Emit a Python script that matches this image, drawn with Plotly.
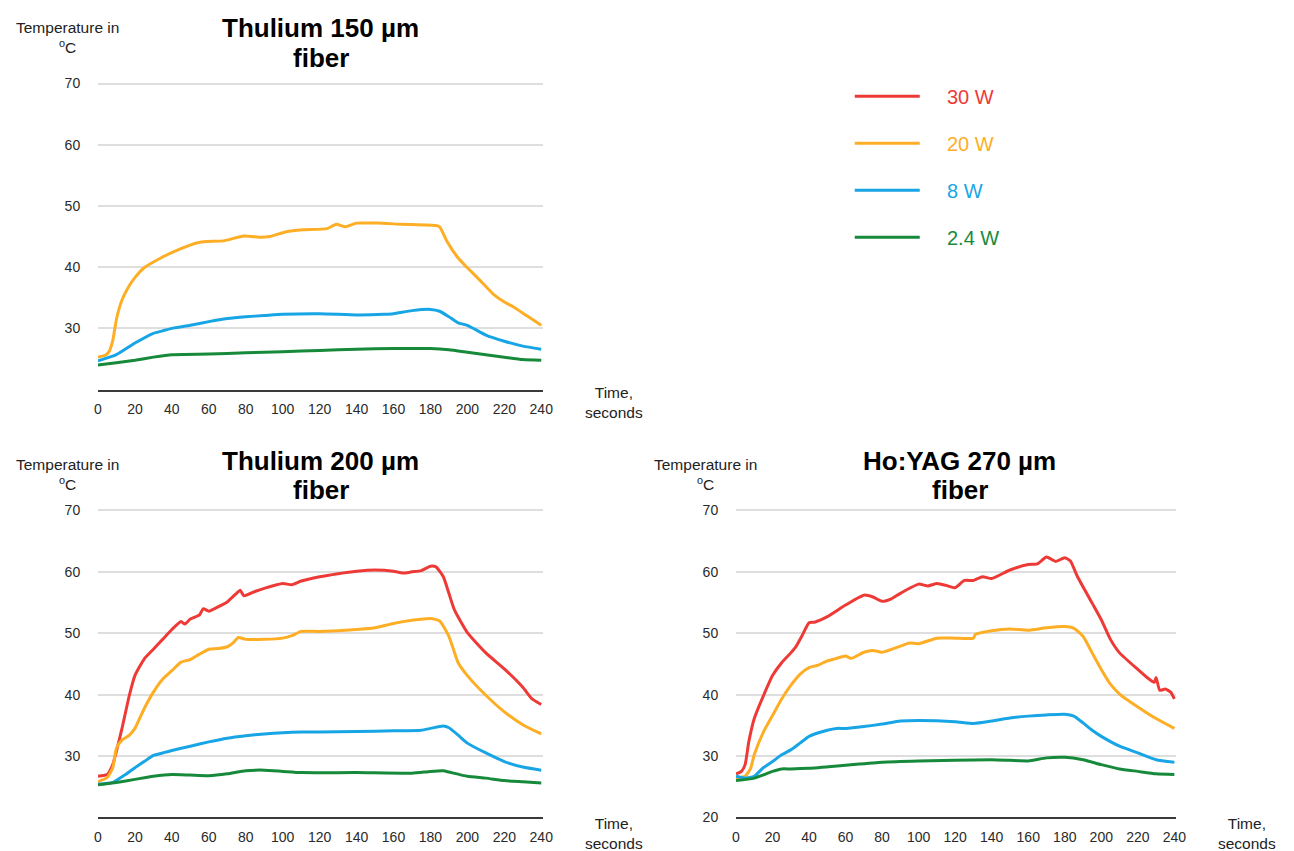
import plotly.graph_objects as go

# ---------------- data ----------------
time_ticks = [0, 20, 40, 60, 80, 100, 120, 140, 160, 180, 200, 220, 240]
series_names = ["30 W", "20 W", "8 W", "2.4 W"]
series_colors = ["#EE3A36", "#FDAE25", "#18A5E5", "#168A3A"]

# Thulium 150 µm fiber
t150_20w_t = [0, 4, 6, 8, 10, 12, 14, 17, 20, 25, 34, 43, 54, 59, 68, 79, 88, 93, 102, 111, 124, 129, 134, 140, 151, 165, 183, 185, 189, 195, 200, 207, 214, 220, 225, 232, 240]
t150_20w_v = [25.3, 25.6, 26.2, 28.0, 31.5, 33.8, 35.3, 37.0, 38.3, 39.9, 41.5, 42.8, 44.0, 44.2, 44.3, 45.1, 44.9, 45.0, 45.8, 46.1, 46.3, 47.0, 46.6, 47.2, 47.2, 47.0, 46.8, 46.6, 44.2, 41.5, 39.9, 37.8, 35.6, 34.3, 33.5, 32.1, 30.5]
t150_8w_t = [0, 10, 20, 30, 35, 40, 50, 60, 70, 80, 90, 100, 120, 140, 155, 160, 170, 180, 185, 190, 195, 200, 210, 220, 230, 240]
t150_8w_v = [24.7, 25.7, 27.6, 29.2, 29.6, 30.0, 30.5, 31.1, 31.6, 31.9, 32.1, 32.3, 32.4, 32.2, 32.3, 32.4, 32.9, 33.1, 32.8, 31.9, 30.9, 30.5, 28.9, 27.9, 27.1, 26.6]
t150_24w_t = [0, 10, 20, 30, 40, 60, 80, 100, 120, 140, 160, 180, 190, 200, 210, 220, 230, 240]
t150_24w_v = [24.0, 24.4, 24.8, 25.3, 25.7, 25.8, 26.0, 26.2, 26.4, 26.6, 26.7, 26.7, 26.5, 26.1, 25.7, 25.3, 24.9, 24.8]

# Thulium 200 µm fiber
t200_30w_t = [0, 5, 8, 10, 13, 17, 20, 25, 30, 35, 40, 45, 47, 50, 55, 57, 60, 65, 70, 75, 77, 79, 85, 90, 100, 105, 110, 120, 130, 140, 150, 160, 165, 170, 175, 180, 183, 187, 190, 193, 200, 210, 220, 230, 235, 240]
t200_30w_v = [26.7, 27.0, 28.6, 30.8, 34.5, 39.9, 43.1, 45.8, 47.4, 49.0, 50.6, 51.9, 51.5, 52.3, 53.0, 54.0, 53.6, 54.3, 55.1, 56.5, 57.0, 56.1, 56.8, 57.3, 58.1, 57.9, 58.5, 59.2, 59.7, 60.1, 60.3, 60.1, 59.8, 60.0, 60.2, 60.9, 60.8, 59.2, 56.5, 53.8, 50.1, 46.8, 44.2, 41.2, 39.3, 38.4]
t200_20w_t = [0, 5, 8, 10, 13, 17, 20, 25, 30, 35, 40, 45, 50, 55, 60, 65, 70, 73, 76, 80, 90, 100, 105, 110, 120, 140, 150, 160, 170, 180, 185, 190, 195, 200, 210, 220, 230, 240]
t200_20w_v = [25.8, 26.5, 28.1, 31.3, 32.6, 33.4, 34.5, 37.7, 40.4, 42.5, 43.9, 45.3, 45.7, 46.6, 47.4, 47.5, 47.8, 48.4, 49.3, 49.0, 49.0, 49.2, 49.6, 50.3, 50.3, 50.6, 50.9, 51.6, 52.1, 52.4, 52.0, 49.5, 45.2, 43.1, 39.9, 37.2, 35.1, 33.6]
t200_8w_t = [0, 8, 15, 20, 25, 30, 35, 40, 50, 60, 70, 80, 90, 100, 110, 120, 140, 160, 175, 180, 187, 190, 195, 200, 210, 220, 230, 240]
t200_8w_v = [25.4, 25.7, 27.0, 28.1, 29.1, 30.1, 30.5, 30.9, 31.6, 32.3, 32.9, 33.3, 33.6, 33.8, 33.9, 33.9, 34.0, 34.1, 34.2, 34.5, 34.9, 34.6, 33.4, 32.1, 30.5, 29.1, 28.2, 27.7]
t200_24w_t = [0, 10, 20, 30, 40, 50, 60, 70, 80, 90, 100, 110, 140, 170, 180, 187, 190, 200, 210, 220, 230, 240]
t200_24w_v = [25.3, 25.7, 26.2, 26.7, 27.0, 26.9, 26.8, 27.1, 27.6, 27.7, 27.5, 27.3, 27.3, 27.2, 27.5, 27.6, 27.4, 26.7, 26.4, 26.0, 25.8, 25.6]

# Ho:YAG 270 µm fiber
ho_30w_t = [0, 3, 5, 7, 10, 15, 20, 25, 30, 33, 36, 40, 43, 50, 60, 70, 75, 80, 85, 90, 100, 105, 110, 115, 120, 125, 130, 135, 140, 150, 160, 165, 170, 175, 180, 183, 187, 195, 200, 205, 210, 220, 225, 229, 230, 232, 235, 238, 240]
ho_30w_v = [27.1, 27.5, 28.6, 32.3, 36.1, 39.8, 43.1, 45.2, 46.8, 47.9, 49.5, 51.7, 51.8, 52.7, 54.6, 56.2, 55.9, 55.2, 55.6, 56.5, 58.0, 57.7, 58.1, 57.8, 57.4, 58.6, 58.6, 59.2, 58.9, 60.3, 61.2, 61.3, 62.4, 61.7, 62.3, 61.8, 59.2, 54.9, 52.2, 49.0, 46.8, 44.1, 42.8, 42.0, 42.8, 40.7, 40.9, 40.4, 39.3]
ho_20w_t = [0, 5, 8, 10, 15, 20, 25, 30, 35, 40, 45, 50, 55, 60, 63, 70, 75, 80, 90, 95, 100, 110, 120, 130, 131, 140, 150, 160, 170, 180, 185, 190, 195, 200, 205, 210, 220, 230, 240]
ho_20w_v = [26.4, 26.7, 28.0, 30.2, 33.9, 36.6, 39.3, 41.5, 43.3, 44.4, 44.8, 45.5, 45.9, 46.3, 45.9, 46.9, 47.2, 46.9, 47.9, 48.4, 48.3, 49.2, 49.2, 49.2, 49.8, 50.4, 50.7, 50.5, 50.9, 51.1, 50.8, 49.5, 46.8, 44.1, 41.7, 40.1, 38.0, 36.1, 34.5]
ho_8w_t = [0, 5, 10, 15, 20, 25, 30, 35, 40, 50, 55, 60, 70, 80, 90, 100, 120, 130, 140, 150, 160, 170, 180, 185, 190, 195, 200, 210, 220, 230, 240]
ho_8w_v = [26.7, 26.4, 26.7, 28.1, 29.1, 30.2, 31.0, 32.1, 33.2, 34.2, 34.5, 34.5, 34.8, 35.2, 35.7, 35.8, 35.6, 35.3, 35.7, 36.2, 36.5, 36.7, 36.8, 36.5, 35.4, 34.2, 33.2, 31.6, 30.5, 29.4, 29.0]
ho_24w_t = [0, 10, 20, 25, 30, 40, 60, 80, 100, 140, 150, 160, 170, 180, 190, 200, 210, 220, 230, 240]
ho_24w_v = [26.0, 26.4, 27.5, 27.9, 27.9, 28.0, 28.5, 29.0, 29.2, 29.4, 29.3, 29.2, 29.7, 29.8, 29.4, 28.6, 27.9, 27.5, 27.1, 27.0]

chart_titles = [("Thulium 150 µm", "fiber"), ("Thulium 200 µm", "fiber"), ("Ho:YAG 270 µm", "fiber")]
y_label = "Temperature in<br><sup>o</sup>C"
x_label = "Time,<br>seconds"

charts = [
    ("", [(1, t150_20w_t, t150_20w_v), (2, t150_8w_t, t150_8w_v), (3, t150_24w_t, t150_24w_v)]),
    ("2", [(0, t200_30w_t, t200_30w_v), (1, t200_20w_t, t200_20w_v), (2, t200_8w_t, t200_8w_v), (3, t200_24w_t, t200_24w_v)]),
    ("3", [(0, ho_30w_t, ho_30w_v), (1, ho_20w_t, ho_20w_v), (2, ho_8w_t, ho_8w_v), (3, ho_24w_t, ho_24w_v)]),
]

# ---------------- layout geometry (pixels) ----------------
W, H = 1294, 851
FONT = "Liberation Sans, Arial, Helvetica, sans-serif"
boxes = [(95, 545, 77, 390), (95, 545, 511, 825), (740, 1185, 511, 825)]
title_cx = [320, 320, 966]
title_cy = [(22, 53), (463, 492), (463, 492)]
ylab_tops = [11, 455, 455]
xlab_tops = [382, 820, 820]
y_tickvals = [[30, 40, 50, 60, 70], [30, 40, 50, 60, 70], [20, 30, 40, 50, 60, 70]]

fig = go.Figure()

order = [1, 0, 2]
for ci in order:
    suffix, series = charts[ci]
    for si, t, v in series:
        fig.add_trace(go.Scatter(
            x=t, y=v, mode="lines",
            xaxis="x" + suffix, yaxis="y" + suffix,
            line=dict(color=series_colors[si], width=3, shape="spline", smoothing=0.5),
            name="&nbsp;&nbsp;&nbsp;&nbsp;<span style='color:%s'>%s</span>" % (series_colors[si], series_names[si]),
            legendgroup=series_names[si],
            showlegend=(ci == 1),
            hoverinfo="x+y",
        ))

layout = dict(
    width=W, height=H,
    margin=dict(l=0, r=0, t=0, b=0),
    paper_bgcolor="white", plot_bgcolor="white",
    font=dict(family=FONT, color="#222"),
    showlegend=True,
    legend=dict(
        x=855 / W, xanchor="left", y=1 - 72 / H, yanchor="top",
        font=dict(size=20, family=FONT),
        tracegroupgap=18, bgcolor="rgba(0,0,0,0)", itemwidth=65,
    ),
    annotations=[],
)

for i, (suffix, _) in enumerate(charts):
    xl, xr, yt, yb = boxes[i]
    layout["xaxis" + suffix] = dict(
        domain=[xl / W, xr / W], range=[0, 241], anchor="y" + suffix,
        tickvals=time_ticks, showgrid=False, zeroline=False,
        showline=True, linecolor="#3a3a3a", linewidth=2,
        ticks="outside", ticklen=6, tickcolor="rgba(0,0,0,0)",
        tickfont=dict(size=14, color="#2a2a2a"), fixedrange=True,
    )
    layout["yaxis" + suffix] = dict(
        domain=[1 - yb / H, 1 - yt / H], range=[20, 70.3], anchor="x" + suffix,
        tickvals=y_tickvals[i], showgrid=True, gridcolor="#dedede", gridwidth=2,
        zeroline=False, showline=False,
        ticks="outside", ticklen=14, tickcolor="rgba(0,0,0,0)",
        tickfont=dict(size=14, color="#2a2a2a"), fixedrange=True,
    )
    for line_text, cy in zip(chart_titles[i], title_cy[i]):
        layout["annotations"].append(dict(
            text="<b>%s</b>" % line_text, xref="paper", yref="paper",
            x=title_cx[i] / W, y=1 - cy / H, xanchor="center", yanchor="middle",
            showarrow=False, font=dict(size=26, color="#000", family=FONT),
        ))
    layout["annotations"].append(dict(
        text=y_label, xref="paper", yref="paper",
        x=(xl - 31) / W, y=1 - ylab_tops[i] / H, xanchor="center", yanchor="top",
        showarrow=False, font=dict(size=15.5, color="#222", family=FONT),
    ))
    layout["annotations"].append(dict(
        text=x_label, xref="paper", yref="paper",
        x=(xr + 72) / W, y=1 - xlab_tops[i] / H, xanchor="center", yanchor="top",
        showarrow=False, font=dict(size=15.5, color="#222", family=FONT),
    ))

fig.update_layout(**layout)
fig.write_html(
    "out.html",
    config={"displayModeBar": False},
    post_script="document.body.style.margin='0';document.body.style.overflow='hidden';",
)
